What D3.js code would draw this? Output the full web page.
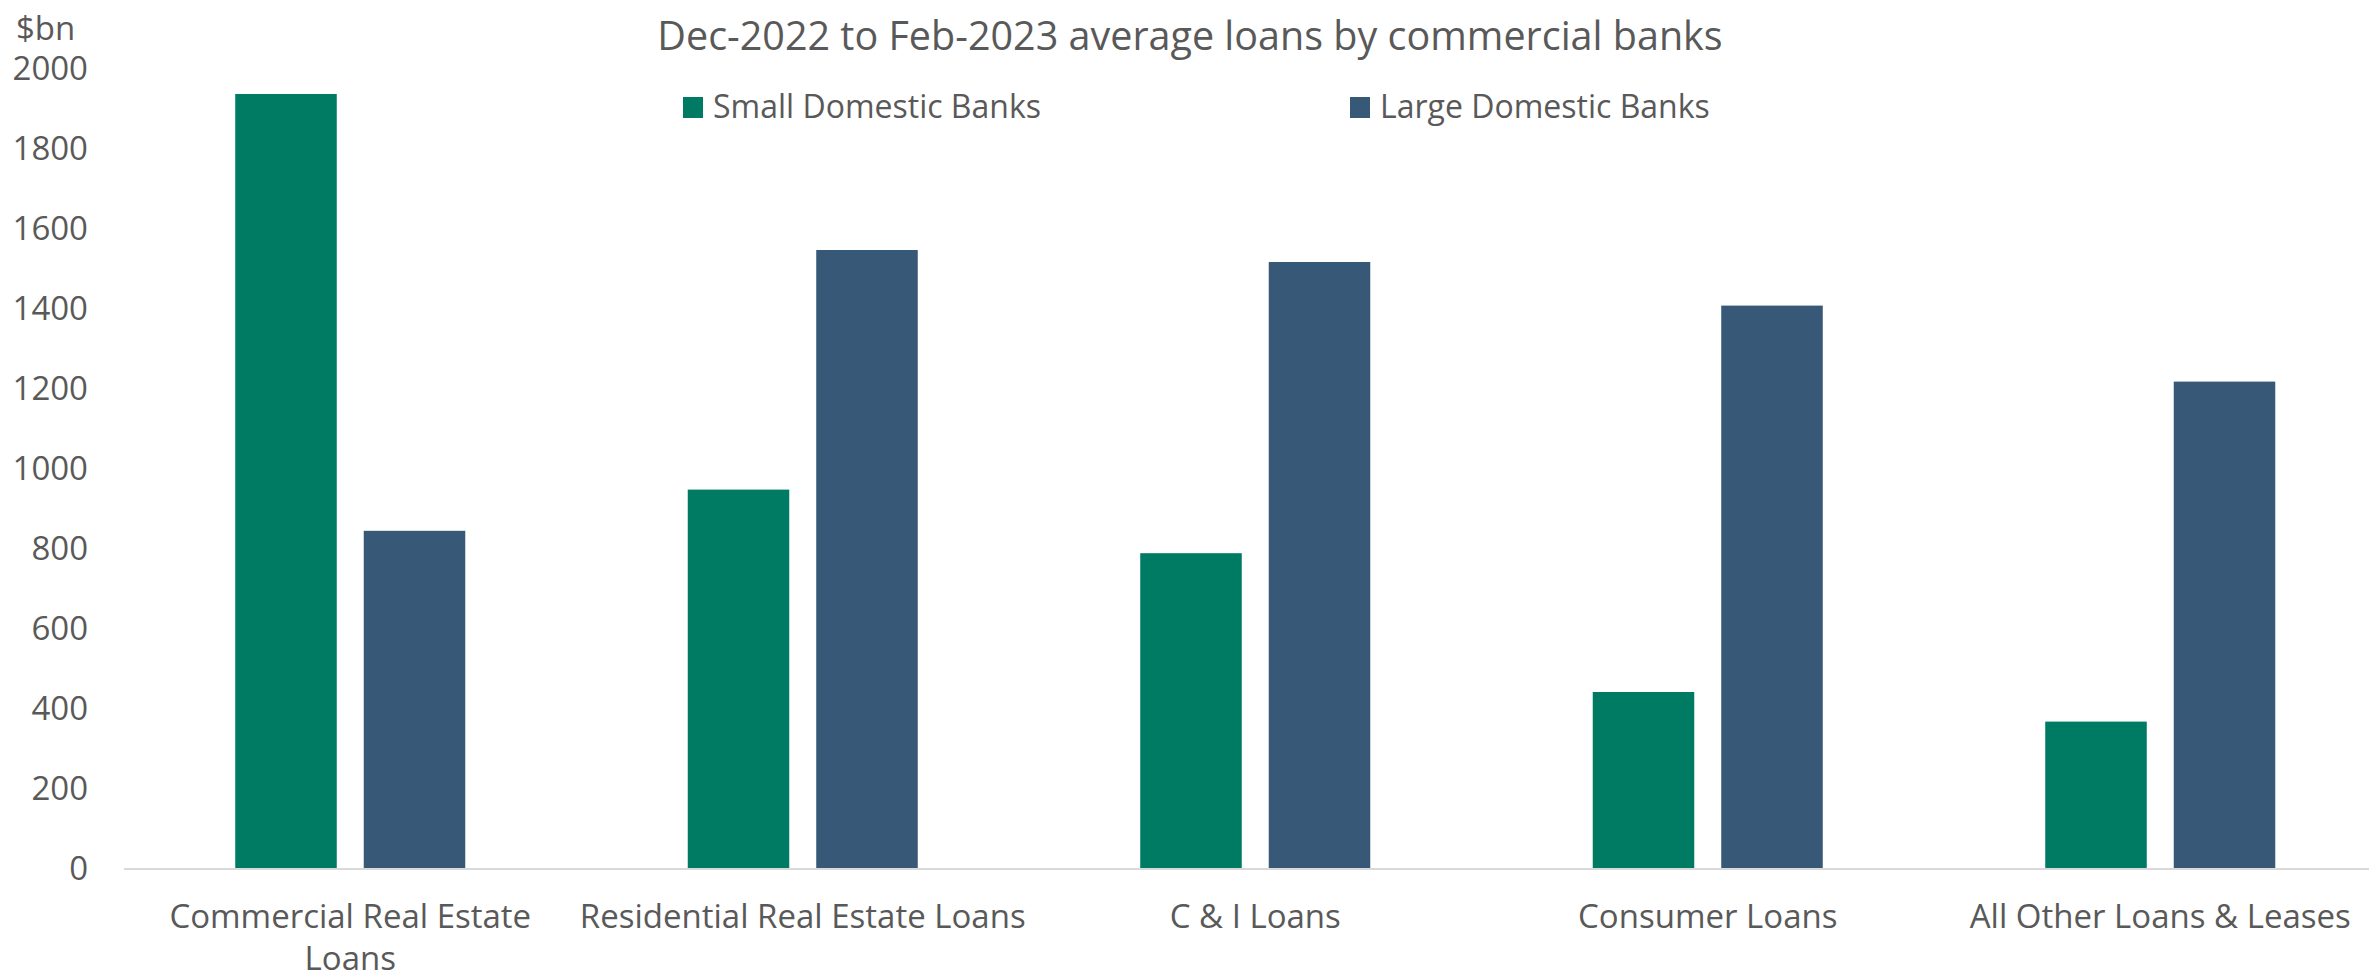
<!DOCTYPE html>
<html>
<head>
<meta charset="utf-8">
<script src="https://cdn.jsdelivr.net/npm/d3@7"></script>
<style>
  html, body { margin: 0; padding: 0; background: #ffffff; }
  svg { display: block; }
  text { font-family: "Open Sans", "Noto Sans", sans-serif; fill: #595959; }
</style>
</head>
<body>
<svg id="chart" width="2369" height="980"></svg>
<script>
// ---- data ----
const categories = [
  "Commercial Real Estate Loans",
  "Residential Real Estate Loans",
  "C & I Loans",
  "Consumer Loans",
  "All Other Loans & Leases"
];
const categoryLines = [
  ["Commercial Real Estate", "Loans"],
  ["Residential Real Estate Loans"],
  ["C & I Loans"],
  ["Consumer Loans"],
  ["All Other Loans & Leases"]
];
const seriesNames = ["Small Domestic Banks", "Large Domestic Banks"];
const smallBanks = [1935, 946, 787, 440, 366];
const largeBanks = [843, 1545, 1515, 1406, 1216];
const yTicks = [0, 200, 400, 600, 800, 1000, 1200, 1400, 1600, 1800, 2000];
const titleText = "Dec-2022 to Feb-2023 average loans by commercial banks";
const unitLabel = "$bn";
const colors = ["#007B63", "#375977"];

// ---- layout ----
const svg = d3.select("#chart");
const plotLeft = 124, plotTop = 68, plotBottom = 868;
const catStep = 452.5;

const y = d3.scaleLinear().domain([0, 2000]).range([plotBottom, plotTop]);
const x0 = d3.scaleBand().domain(categories)
  .range([plotLeft, plotLeft + catStep * categories.length])
  .paddingInner(0).paddingOuter(0);
const x1 = d3.scaleBand().domain(seriesNames)
  .range([0, x0.bandwidth()])
  .paddingInner(0.21).paddingOuter(0.8657);
const color = d3.scaleOrdinal().domain(seriesNames).range(colors);

const rows = categories.map((c, i) => ({
  cat: c,
  values: [
    { s: seriesNames[0], v: smallBanks[i] },
    { s: seriesNames[1], v: largeBanks[i] }
  ]
}));

// bars
const groups = svg.append("g").selectAll("g").data(rows).join("g")
  .attr("transform", d => `translate(${x0(d.cat)},0)`);
groups.selectAll("rect").data(d => d.values).join("rect")
  .attr("x", d => x1(d.s))
  .attr("width", x1.bandwidth())
  .attr("y", d => y(d.v))
  .attr("height", d => y(0) - y(d.v))
  .attr("fill", d => color(d.s));

// x axis line
svg.append("line")
  .attr("x1", plotLeft).attr("x2", 2369)
  .attr("y1", y(0) + 1).attr("y2", y(0) + 1)
  .attr("stroke", "#D9D9D9").attr("stroke-width", 2);

// x labels
const xAxis = d3.axisBottom(x0).tickSize(0).tickPadding(0).tickFormat("");
const gx = svg.append("g").attr("transform", `translate(0,${y(0)})`).call(xAxis);
gx.select(".domain").remove();
gx.selectAll(".tick").each(function(d, i) {
  const t = d3.select(this).append("text")
    .attr("text-anchor", "middle")
    .style("font-size", "33px")
    .attr("y", 60);
  categoryLines[i].forEach((ln, k) => {
    t.append("tspan").attr("x", 0).attr("dy", k === 0 ? 0 : 42).text(ln);
  });
});

// y axis
const yAxis = d3.axisLeft(y).tickValues(yTicks).tickSize(0).tickPadding(0)
  .tickFormat(d3.format("d"));
const gy = svg.append("g").attr("transform", "translate(88,0)").call(yAxis);
gy.select(".domain").remove();
gy.selectAll("text")
  .style("font-size", "33px")
  .style("font-family", "'Open Sans', sans-serif")
  .attr("fill", "#595959")
  .attr("dy", "0.35em");

// unit label
svg.append("text").attr("x", 16).attr("y", 28).attr("dy", "0.35em")
  .style("font-size", "33px").text(unitLabel);

// title
svg.append("text").attr("x", 1190).attr("y", 36).attr("dy", "0.35em")
  .attr("text-anchor", "middle").style("font-size", "39.5px").text(titleText);

// legend
const legendX = [683, 1350];
const lg = svg.append("g").selectAll("g").data(seriesNames).join("g")
  .attr("transform", (d, i) => `translate(${legendX[i]},107)`);
lg.append("rect").attr("x", 0).attr("y", -10).attr("width", 20).attr("height", 21)
  .attr("fill", d => color(d));
lg.append("text").attr("x", 30).attr("dy", "0.35em")
  .style("font-size", "32px").text(d => d);
</script>
</body>
</html>
